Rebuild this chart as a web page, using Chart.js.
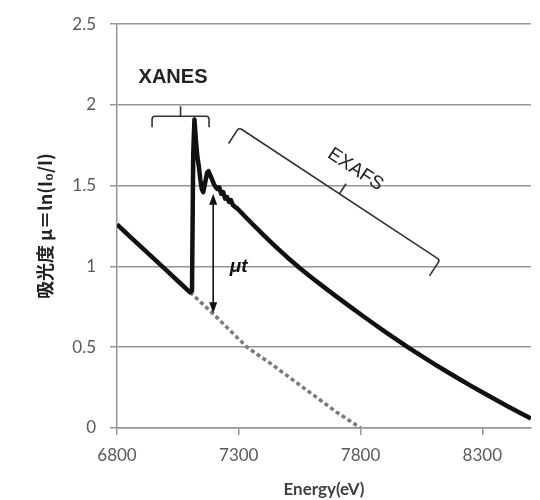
<!DOCTYPE html>
<html>
<head>
<meta charset="utf-8">
<script src="https://cdn.jsdelivr.net/npm/chart.js@4.4.1/dist/chart.umd.min.js"></script>
<style>
  html, body { margin: 0; padding: 0; background: #fff; }
  #wrap { width: 540px; height: 500px; position: relative; }
</style>
</head>
<body>
<div id="wrap"><canvas id="xafsChart"></canvas></div>
<script>
// absorption spectrum (solid)
var energy = [6800, 6850, 6900, 6950, 7000, 7050, 7100, 7108, 7113, 7118, 7124, 7130, 7136, 7142, 7148,
  7154, 7162, 7170, 7176, 7184, 7190, 7198, 7206, 7212, 7220, 7228, 7236, 7244, 7252, 7260, 7268,
  7276, 7284, 7293, 7300, 7350, 7400, 7450, 7500, 7550, 7600, 7650, 7700, 7750, 7800, 7850, 7900,
  7950, 8000, 8050, 8100, 8150, 8200, 8250, 8300, 8350, 8400, 8450, 8500];
var absorbance = [1.26, 1.19, 1.12, 1.05, 0.98, 0.91, 0.84, 0.85, 1.70, 1.91, 1.78, 1.68, 1.62, 1.54, 1.48,
  1.46, 1.52, 1.58, 1.59, 1.56, 1.54, 1.51, 1.49, 1.48, 1.49, 1.45, 1.46, 1.42, 1.43, 1.40, 1.41,
  1.38, 1.37, 1.36, 1.35, 1.272, 1.197, 1.125, 1.056, 0.991, 0.930, 0.872, 0.815, 0.759, 0.704, 0.650, 0.597,
  0.545, 0.494, 0.446, 0.399, 0.353, 0.308, 0.264, 0.221, 0.179, 0.138, 0.098, 0.059];

// pre-edge background extrapolated past the edge (dotted)
var bgEnergy = [7100, 7150, 7200, 7260, 7334, 7430, 7520, 7610, 7700, 7800];
var bgAbsorbance = [0.84, 0.77, 0.70, 0.61, 0.50, 0.40, 0.30, 0.20, 0.10, 0.0];

var energyTicks = [6800, 7300, 7800, 8300];

var gridColor = '#969696';
var tickFont = { family: 'Lato, "Noto Sans", sans-serif', size: 17 };

function toPoints(xs, ys) {
  return xs.map(function (x, i) { return { x: x, y: ys[i] }; });
}

function drawBrace(ctx, a, b, hook, tick) {
  var dx = b.x - a.x, dy = b.y - a.y, len = Math.hypot(dx, dy);
  var ux = dx / len, uy = dy / len;
  var nx = uy, ny = -ux; // normal pointing away from the curve
  var mx = (a.x + b.x) / 2, my = (a.y + b.y) / 2;
  ctx.beginPath();
  ctx.moveTo(a.x - nx * hook, a.y - ny * hook);
  ctx.arcTo(a.x, a.y, b.x, b.y, 3);
  ctx.arcTo(b.x, b.y, b.x - nx * hook, b.y - ny * hook, 3);
  ctx.lineTo(b.x - nx * hook, b.y - ny * hook);
  ctx.moveTo(mx, my);
  ctx.lineTo(mx + nx * tick, my + ny * tick);
  ctx.stroke();
  return { x: mx, y: my, nx: nx, ny: ny, angle: Math.atan2(uy, ux) };
}

function arrowHead(ctx, tip, dir) {
  ctx.beginPath();
  ctx.moveTo(tip.x, tip.y);
  ctx.lineTo(tip.x - 4, tip.y - dir * 11);
  ctx.lineTo(tip.x + 4, tip.y - dir * 11);
  ctx.closePath();
  ctx.fill();
}

var annotations = {
  id: 'annotations',
  afterDatasetsDraw: function (chart) {
    var ctx = chart.ctx, sx = chart.scales.x, sy = chart.scales.y;
    function px(e, v) { return { x: sx.getPixelForValue(e), y: sy.getPixelForValue(v) }; }

    ctx.save();
    ctx.strokeStyle = '#333';
    ctx.fillStyle = '#222';
    ctx.lineWidth = 1.6;
    ctx.lineJoin = 'round';

    // XANES
    drawBrace(ctx, px(6944, 1.93), px(7178, 1.93), 11, 10);
    ctx.font = 'bold 20px "Liberation Sans", Arial, sans-serif';
    ctx.textAlign = 'center';
    ctx.textBaseline = 'middle';
    var t = px(7030, 2.17);
    ctx.fillText('XANES', t.x, t.y);

    // EXAFS
    var m = drawBrace(ctx, px(7301, 1.86), px(8126, 1.04), 19, 12);
    ctx.save();
    ctx.translate(m.x + m.nx * 29, m.y + m.ny * 29);
    ctx.rotate(m.angle);
    ctx.font = '19px "Liberation Sans", Arial, sans-serif';
    ctx.fillText('EXAFS', 0, 0);
    ctx.restore();

    // edge jump
    var top = px(7195, 1.45), bot = px(7195, 0.71);
    ctx.strokeStyle = '#111';
    ctx.fillStyle = '#111';
    ctx.lineWidth = 1.6;
    ctx.beginPath();
    ctx.moveTo(top.x, top.y + 8);
    ctx.lineTo(bot.x, bot.y - 8);
    ctx.stroke();
    arrowHead(ctx, top, -1);
    arrowHead(ctx, bot, 1);

    ctx.font = 'italic bold 19px "Liberation Sans", Arial, sans-serif';
    var lt = px(7300, 1.0);
    ctx.fillText('\u03bct', lt.x, lt.y);

    ctx.restore();
  }
};

new Chart(document.getElementById('xafsChart'), {
  type: 'line',
  data: {
    datasets: [{
      label: 'spectrum',
      data: toPoints(energy, absorbance),
      borderColor: '#111',
      borderWidth: 4.5,
      borderJoinStyle: 'round',
      pointRadius: 0,
      tension: 0,
      order: 1
    }, {
      label: 'background',
      data: toPoints(bgEnergy, bgAbsorbance),
      borderColor: '#7a7a7a',
      borderWidth: 3.5,
      borderDash: [4, 3],
      pointRadius: 0,
      tension: 0,
      order: 2
    }]
  },
  options: {
    responsive: true,
    maintainAspectRatio: false,
    animation: false,
    layout: { padding: { top: 21, right: 9, bottom: 0, left: 0 } },
    plugins: {
      legend: { display: false },
      tooltip: { enabled: false }
    },
    scales: {
      x: {
        type: 'linear',
        min: 6800,
        max: 8500,
        afterBuildTicks: function (scale) {
          scale.ticks = energyTicks.map(function (v) { return { value: v }; });
        },
        afterFit: function (scale) { scale.height = 72; },
        grid: { drawOnChartArea: false, drawTicks: true, tickLength: 7, color: gridColor, lineWidth: 1.5 },
        border: { display: true, color: gridColor, width: 1.5 },
        ticks: {
          font: tickFont,
          color: '#595959',
          padding: 10,
          maxRotation: 0,
          autoSkip: false,
          callback: function (v) { return String(v); }
        },
        title: {
          display: true,
          text: 'Energy(eV)',
          color: '#404040',
          font: { family: 'Lato, "Noto Sans", sans-serif', size: 17, weight: 'bold' },
          padding: { top: 0, bottom: 0 }
        }
      },
      y: {
        min: 0,
        max: 2.5,
        afterFit: function (scale) { scale.width = 117; },
        grid: { color: gridColor, lineWidth: 1.5, tickLength: 7 },
        border: { display: true, color: gridColor, width: 1.5 },
        ticks: {
          stepSize: 0.5,
          font: tickFont,
          color: '#595959',
          padding: 14,
          callback: function (v) { return String(v); }
        },
        title: {
          display: true,
          text: '吸光度 μ＝ln(I₀/I)',
          color: '#222',
          font: { family: '"Noto Sans CJK JP", sans-serif', size: 18, weight: 'bold' },
          padding: { top: 34, bottom: 0 }
        }
      }
    }
  },
  plugins: [annotations]
});
</script>
</body>
</html>
